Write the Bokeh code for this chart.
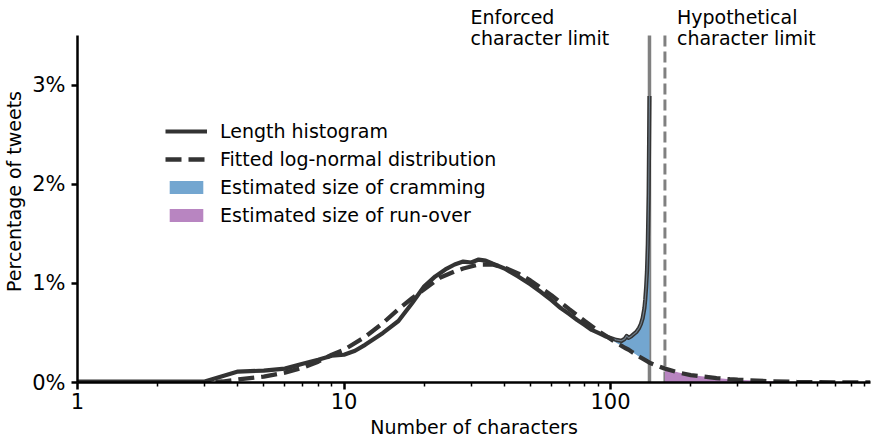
from bokeh.plotting import figure
from bokeh.models import Range1d, FixedTicker, Label, Legend, LegendItem
from bokeh.embed import file_html
from bokeh.resources import INLINE

# ---------------- data ----------------
hist_len = [1, 2, 3, 4, 5, 6, 7, 8, 9, 10, 11, 12, 14, 16, 18, 20, 22, 24, 26, 28, 30, 32, 34, 36,
            40, 45, 50, 55, 60, 65, 70, 75, 80, 85, 90, 95, 100, 105, 110, 113, 115, 117, 120,
            125, 128, 130, 132, 134, 135, 136, 137, 138, 139, 140]
hist_pct = [0.01, 0.01, 0.01, 0.11, 0.12, 0.14, 0.19, 0.23, 0.27, 0.28, 0.32, 0.38, 0.50, 0.62, 0.80,
            0.97, 1.07, 1.14, 1.19, 1.22, 1.21, 1.24, 1.23, 1.20,
            1.15, 1.07, 0.99, 0.91, 0.83, 0.75, 0.69, 0.63, 0.58, 0.53, 0.50, 0.47, 0.45, 0.43, 0.42,
            0.44, 0.47, 0.45, 0.47, 0.51, 0.55, 0.59, 0.65, 0.75, 0.84, 0.96, 1.12, 1.40, 1.90, 2.89]

fit_len = [1, 2, 3, 3.5, 4, 5, 6, 7, 8, 9, 10, 12, 14, 16, 18, 20, 23, 26, 28, 32, 36, 40, 45, 50,
           55, 60, 70, 80, 90, 100, 105, 110, 113, 115, 117, 120, 125, 128, 130, 132, 134, 135,
           136, 137, 138, 139, 140, 160, 180, 200, 250, 280, 300, 400, 500, 700, 945]
fit_pct = [0.0, 0.0, 0.0, 0.01, 0.03, 0.06, 0.10, 0.15, 0.21, 0.28, 0.33, 0.46, 0.60, 0.74, 0.85,
           0.94, 1.06, 1.12, 1.15, 1.19, 1.19, 1.16, 1.10, 1.03,
           0.95, 0.88, 0.74, 0.62, 0.52, 0.44, 0.40, 0.37, 0.35, 0.34, 0.33, 0.31, 0.28, 0.26,
           0.25, 0.24, 0.23, 0.225, 0.22, 0.215, 0.21, 0.205, 0.20, 0.14, 0.10, 0.075, 0.045,
           0.033, 0.028, 0.012, 0.006, 0.002, 0.001]

enforced_limit = 140
hypothetical_limit = 160
cram_start = 100

x_min, x_max = 1, 945
y_axis_top = 3.5          # top of the drawn y axis
y_view_top = 3.853        # top of the drawing area (room for the annotations)

x_major_ticks = [1, 10, 100]
x_minor_ticks = [2, 3, 4, 5, 6, 7, 8, 9, 20, 30, 40, 50, 60, 70, 80, 90,
                 200, 300, 400, 500, 600, 700, 800, 900]
y_ticks = [0, 1, 2, 3]
y_tick_labels = ["0%", "1%", "2%", "3%"]

legend_labels = ["Length histogram", "Fitted log-normal distribution",
                 "Estimated size of cramming", "Estimated size of run-over"]

# ---------------- derived sources ----------------
fit_map = dict(zip(fit_len, fit_pct))
cram_x = [x for x in hist_len if cram_start <= x <= enforced_limit]
cram_hi = [h for x, h in zip(hist_len, hist_pct) if cram_start <= x <= enforced_limit]
cram_lo = [fit_map[x] for x in cram_x]
run_x = [x for x in fit_len if x >= hypothetical_limit]
run_hi = [fit_map[x] for x in run_x]
run_lo = [0 for _ in run_x]
edge_x = [x for x in hist_len if x >= cram_start]
edge_y = [h for x, h in zip(hist_len, hist_pct) if x >= cram_start]

FONT = "DejaVu Sans"
DARK = "#333333"

p = figure(width=871, height=443, x_axis_type="log",
           x_range=Range1d(x_min, x_max), y_range=Range1d(0, y_view_top),
           output_backend="svg", toolbar_location=None,
           min_border_left=77, min_border_right=1, min_border_top=0, min_border_bottom=61)
p.outline_line_color = None
p.xgrid.visible = False
p.ygrid.visible = False
p.background_fill_color = "white"

# vertical limit lines
p.segment(x0=[enforced_limit], y0=[0], x1=[enforced_limit], y1=[y_axis_top],
          line_color="#808080", line_width=3.5)
p.segment(x0=[hypothetical_limit], y0=[0], x1=[hypothetical_limit], y1=[y_axis_top],
          line_color="#808080", line_width=3, line_dash="11 5")

r_cram = p.varea(x=cram_x, y1=cram_lo, y2=cram_hi, fill_color="#73a6d0", fill_alpha=1.0)
r_run = p.varea(x=run_x, y1=run_lo, y2=run_hi, fill_color="#b885c1", fill_alpha=1.0)

r_hist = p.line(hist_len, hist_pct, line_color=DARK, line_width=4.2, line_join="round")
p.line(edge_x, edge_y, line_color="#6f7d8a", line_width=1.2, line_join="round")
r_fit = p.line(fit_len, fit_pct, line_color=DARK, line_width=4.3, line_dash="16 7")

# axes
xa = p.xaxis[0]
xa.ticker = FixedTicker(ticks=x_major_ticks, minor_ticks=x_minor_ticks)
xa.major_label_overrides = {t: str(t) for t in x_major_ticks}
ya = p.yaxis[0]
ya.ticker = FixedTicker(ticks=y_ticks)
ya.major_label_overrides = dict(zip(y_ticks, y_tick_labels))
ya.bounds = (0, y_axis_top)

for ax in (xa, ya):
    ax.axis_line_width = 2.5
    ax.axis_line_color = "black"
    ax.major_tick_line_width = 2.5
    ax.major_tick_line_color = "black"
    ax.major_tick_in = 0
    ax.major_tick_out = 7
    ax.minor_tick_in = 0
    ax.minor_tick_out = 4
    ax.minor_tick_line_width = 1.5
    ax.minor_tick_line_color = "black"
    ax.major_label_text_font = FONT
    ax.major_label_text_font_size = "21px"
    ax.major_label_text_color = "black"
    ax.axis_label_text_font = FONT
    ax.axis_label_text_font_size = "19px"
    ax.axis_label_text_font_style = "normal"
    ax.axis_label_text_color = "black"

xa.axis_label_standoff = 4
xa.major_label_standoff = 3
ya.minor_tick_line_color = None
ya.major_tick_out = 6
ya.major_label_standoff = 6
ya.axis_label_standoff = 4
xa.axis_label = "Number of characters"
ya.axis_label = "Percentage of tweets"

# annotations
for lim, dx, lines in ((enforced_limit, -179, ["Enforced", "character limit"]),
                       (hypothetical_limit, 12, ["Hypothetical", "character limit"])):
    for i, t in enumerate(lines):
        p.add_layout(Label(x=lim, y=y_axis_top, x_offset=dx, y_offset=18 - 21 * i, text=t,
                           text_font=FONT, text_font_size="19px", text_color="black",
                           text_baseline="alphabetic", text_align="left"))

legend = Legend(items=[LegendItem(label=legend_labels[0], renderers=[r_hist]),
                       LegendItem(label=legend_labels[1], renderers=[r_fit]),
                       LegendItem(label=legend_labels[2], renderers=[r_cram]),
                       LegendItem(label=legend_labels[3], renderers=[r_run])],
                location=(88, 156), orientation="vertical")
legend.border_line_color = None
legend.background_fill_alpha = 0
legend.padding = 0
legend.margin = 0
legend.spacing = 6
legend.glyph_width = 42
legend.glyph_height = 16
legend.label_height = 22
legend.label_standoff = 13
legend.label_text_font = FONT
legend.label_text_font_size = "19px"
legend.label_text_color = "black"
p.add_layout(legend, "center")

open("out.html", "w").write(file_html(p, INLINE))
